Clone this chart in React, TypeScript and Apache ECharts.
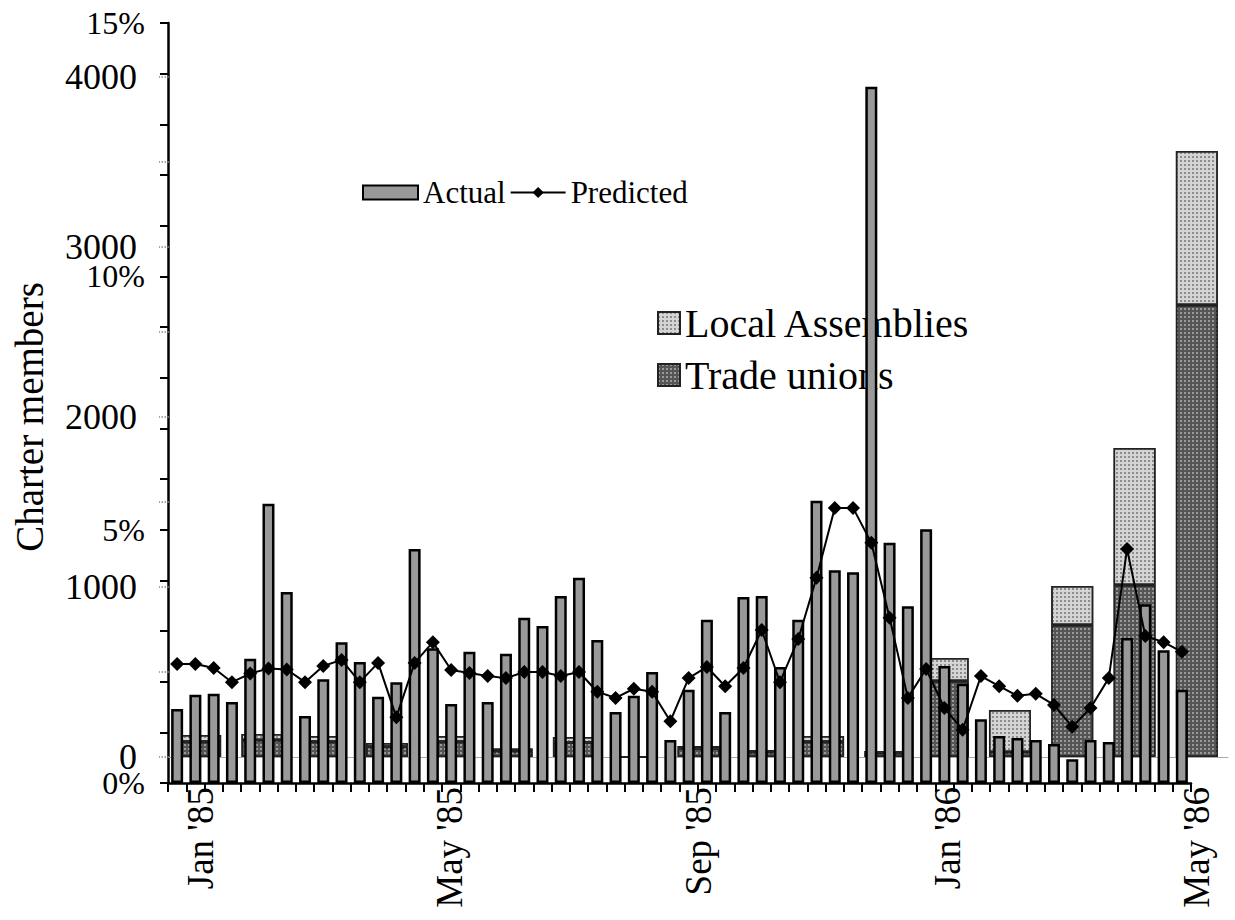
import React, { useEffect, useRef } from "react";
import * as echarts from "echarts";

const weeks: string[] = Array.from({ length: 56 }, (_, i) => `W${i + 1}`);

const months = [
  "Jan '85", "Feb '85", "Mar '85", "Apr '85", "May '85", "Jun '85", "Jul '85", "Aug '85",
  "Sep '85", "Oct '85", "Nov '85", "Dec '85", "Jan '86", "Feb '86", "Mar '86", "Apr '86", "May '86",
];

// weekly series (percent axis)
const actual = [
  1.46, 1.74, 1.76, 1.6, 2.45, 5.51, 3.77, 1.32, 2.05, 2.78,
  2.39, 1.7, 1.99, 4.62, 2.66, 1.56, 2.59, 1.6, 2.55, 3.26,
  3.1, 3.69, 4.05, 2.82, 1.4, 1.72, 2.19, 0.85, 1.84, 3.22,
  1.4, 3.67, 3.69, 2.29, 3.22, 5.57, 4.2, 4.16, 13.74, 4.74,
  3.49, 5.01, 2.31, 1.96, 1.26, 0.93, 0.89, 0.85, 0.77, 0.47,
  0.85, 0.81, 2.86, 3.53, 2.62, 1.84,
];
const predicted = [
  2.35, 2.35, 2.27, 1.99, 2.16, 2.26, 2.24, 1.99, 2.31, 2.43,
  1.99, 2.37, 1.3, 2.37, 2.78, 2.23, 2.17, 2.11, 2.07, 2.19,
  2.19, 2.11, 2.19, 1.8, 1.68, 1.86, 1.8, 1.22, 2.07, 2.29,
  1.91, 2.27, 3.02, 1.99, 2.84, 4.05, 5.43, 5.43, 4.74, 3.26,
  1.68, 2.25, 1.48, 1.05, 2.11, 1.91, 1.72, 1.76, 1.54, 1.11,
  1.48, 2.07, 4.62, 2.9, 2.78, 2.59,
];

// monthly series (charter members axis)
const tradeUnions = [90, 100, 90, 60, 90, 35, 85, 0, 50, 30, 90, 25, 447, 30, 776, 1012, 2659];
const localAssemblies = [40, 35, 34, 22, 34, 15, 33, 0, 15, 11, 34, 10, 135, 246, 230, 806, 906];

const pctTicks = [0, 5, 10, 15];
const memberTicks = [0, 1000, 2000, 3000, 4000];

const FONT = "Liberation Serif";

export default function App() {
  const ref = useRef<HTMLDivElement>(null);
  useEffect(() => {
    if (!ref.current) return;
    const chart = echarts.init(ref.current, undefined, { renderer: "svg" });
    chart.setOption({
      animation: false,
      backgroundColor: "#fff",
      textStyle: { fontFamily: FONT, color: "#000" },
      grid: [
        { left: 168, top: 23, width: 1023, height: 760 },
        { left: 169, top: 77, width: 1059, height: 680 },
      ],
      legend: [
        {
          data: [{ name: "Actual", icon: "rect" }, { name: "Predicted" }],
          left: 362,
          top: 177,
          padding: 0,
          itemWidth: 55,
          itemHeight: 14,
          itemGap: 4,
          selectedMode: false,
          textStyle: { fontFamily: FONT, fontSize: 31, color: "#000" },
        },
        {
          data: [
            { name: "Local Assemblies", icon: "rect" },
            { name: "Trade unions", icon: "rect" },
          ],
          orient: "vertical",
          left: 657,
          top: 303,
          padding: 0,
          itemWidth: 22,
          itemHeight: 22,
          itemGap: 12,
          z: 1,
          selectedMode: false,
          textStyle: { fontFamily: FONT, fontSize: 40, color: "#000" },
        },
      ],
      xAxis: [
        {
          type: "category",
          gridIndex: 0,
          data: weeks,
          boundaryGap: true,
          axisLine: { lineStyle: { color: "#000", width: 2.5 } },
          axisTick: { show: true, interval: 0, length: 9, lineStyle: { color: "#000", width: 2 } },
          axisLabel: { show: false },
          splitLine: { show: false },
        },
        {
          type: "category",
          gridIndex: 1,
          data: months,
          boundaryGap: true,
          axisLine: { show: true, lineStyle: { color: "#aaa", width: 1 } },
          axisTick: { show: false },
          axisLabel: {
            rotate: 90,
            margin: 30,
            fontSize: 37,
            fontFamily: FONT,
            color: "#000",
            interval: (i: number) => i % 4 === 0,
          },
          splitLine: { show: false },
        },
      ],
      yAxis: [
        {
          type: "value",
          gridIndex: 0,
          min: 0,
          max: 15,
          interval: 1,
          axisLine: { show: true, lineStyle: { color: "#000", width: 2.5 } },
          axisTick: { show: true, length: 8, lineStyle: { color: "#000", width: 2 } },
          axisLabel: {
            margin: 23,
            fontSize: 32,
            fontFamily: FONT,
            color: "#000",
            formatter: (v: number) => (pctTicks.includes(v) ? `${v}%` : ""),
          },
          splitLine: { show: false },
        },
        {
          type: "value",
          gridIndex: 1,
          min: 0,
          max: 4000,
          interval: 500,
          name: "Charter members",
          nameLocation: "middle",
          nameGap: 120,
          nameTextStyle: { fontSize: 39, fontFamily: FONT, color: "#000" },
          axisLine: { show: false },
          axisTick: { show: true, length: 10, lineStyle: { color: "#888", width: 1.5, type: "dotted" } },
          axisLabel: {
            margin: 32,
            fontSize: 36,
            fontFamily: FONT,
            color: "#000",
            formatter: (v: number) => (memberTicks.includes(v) ? `${v}` : ""),
          },
          splitLine: { show: false },
        },
      ],
      series: [
        {
          name: "Trade unions",
          type: "bar",
          xAxisIndex: 1,
          yAxisIndex: 1,
          stack: "m",
          barWidth: 42,
          z: 1,
          data: tradeUnions,
          itemStyle: {
            color: "#555555",
            borderColor: "#222",
            borderWidth: 1.5,
            decal: {
              symbol: "rect",
              symbolSize: 1,
              dashArrayX: [2, 2],
              dashArrayY: [2, 2],
              color: "rgba(210,210,210,0.55)",
            },
          },
        },
        {
          name: "Local Assemblies",
          type: "bar",
          xAxisIndex: 1,
          yAxisIndex: 1,
          stack: "m",
          barWidth: 42,
          z: 1,
          data: localAssemblies,
          itemStyle: {
            color: "#d4d4d4",
            borderColor: "#222",
            borderWidth: 1.5,
            decal: {
              symbol: "rect",
              symbolSize: 1,
              dashArrayX: [2, 2],
              dashArrayY: [2, 2],
              color: "rgba(80,80,80,0.55)",
            },
          },
        },
        {
          name: "Actual",
          type: "bar",
          xAxisIndex: 0,
          yAxisIndex: 0,
          barWidth: 12,
          z: 3,
          data: actual,
          itemStyle: { color: "#999999", borderColor: "#000", borderWidth: 2.5 },
        },
        {
          name: "Predicted",
          type: "line",
          xAxisIndex: 0,
          yAxisIndex: 0,
          z: 4,
          data: predicted,
          symbol: "diamond",
          symbolSize: 14,
          showSymbol: true,
          showAllSymbol: true,
          lineStyle: { color: "#000", width: 2 },
          itemStyle: { color: "#000" },
        },
      ],
    });
    return () => chart.dispose();
  }, []);
  return (
    <div
      ref={ref}
      style={{ position: "absolute", left: 0, top: 0, width: 1235, height: 920, background: "#fff" }}
    />
  );
}
